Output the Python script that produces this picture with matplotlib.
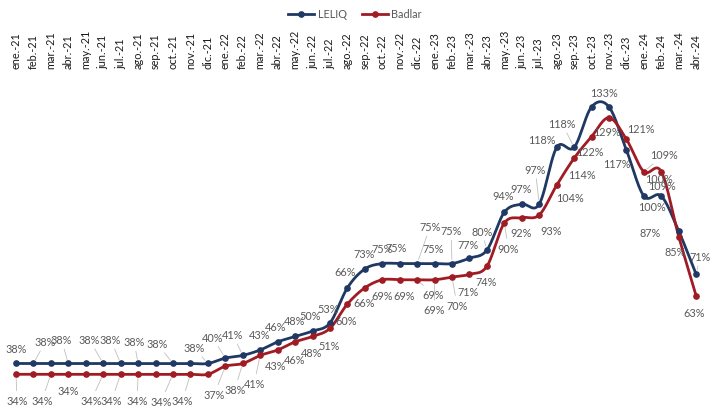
import numpy as np
import matplotlib
matplotlib.use("Agg")
import matplotlib.pyplot as plt
from matplotlib.lines import Line2D

months = ['ene.-21', 'feb.-21', 'mar.-21', 'abr.-21', 'may.-21', 'jun.-21', 'jul.-21', 'ago.-21',
          'sep.-21', 'oct.-21', 'nov.-21', 'dic.-21',
          'ene.-22', 'feb.-22', 'mar.-22', 'abr.-22', 'may.-22', 'jun.-22', 'jul.-22', 'ago.-22',
          'sep.-22', 'oct.-22', 'nov.-22', 'dic.-22',
          'ene.-23', 'feb.-23', 'mar.-23', 'abr.-23', 'may.-23', 'jun.-23', 'jul.-23', 'ago.-23',
          'sep.-23', 'oct.-23', 'nov.-23', 'dic.-23',
          'ene.-24', 'feb.-24', 'mar.-24', 'abr.-24']

leliq = [38, 38, 38, 38, 38, 38, 38, 38, 38, 38, 38, 38,
         40, 41, 43, 46, 48, 50, 53, 66, 73, 75, 75, 75,
         75, 75, 77, 80, 94, 97, 97, 118, 118, 133, 133, 117,
         100, 100, 87, 71]

badlar = [34, 34, 34, 34, 34, 34, 34, 34, 34, 34, 34, 34,
          37, 38, 41, 43, 46, 48, 51, 60, 66, 69, 69, 69,
          69, 70, 71, 74, 90, 92, 93, 104, 114, 122, 129, 121,
          109, 109, 85, 63]

# label placement: index -> (dx px, dy px, leader line)
leliq_labels = {0: (0, 15, False), 1: (12, 22, True), 3: (-7, 24, True), 5: (-14, 24, True),
                6: (-10, 24, True), 7: (-4, 22, True), 9: (-16, 20, True), 11: (-14, 16, True),
                12: (-13, 21, True), 13: (-10, 21, True), 14: (-1, 15, False), 15: (-2, 15, False),
                16: (-1, 16, False), 17: (-2, 16, False), 18: (-2, 14, False), 19: (-2, 16, False),
                20: (-1, 15, False), 21: (0, 15, False), 22: (-4, 16, False), 23: (13, 37, True),
                24: (-1, 15, False), 25: (-1, 33, True), 26: (-1, 14, False), 27: (-5, 19, True),
                28: (-1, 17, False), 29: (-1, 16, False), 30: (-4, 35, True), 31: (-15, 8, False),
                32: (-12, 24, True), 34: (-5, 14, False), 35: (-10, -13, False), 36: (8, -10, False),
                37: (-2, 18, False), 38: (-29, -1, False), 39: (4, 18, True)}

badlar_labels = {0: (1, -26, True), 2: (-9, -26, True), 3: (0, -16, False), 5: (-12, -26, True),
                 6: (-9, -26, True), 7: (-1, -26, True), 9: (-12, -27, True), 10: (-8, -26, True),
                 12: (-11, -28, True), 13: (-8, -26, True), 14: (-6, -28, True), 15: (-2, -16, False),
                 16: (0, -18, False), 17: (-1, -16, False), 18: (-1, -17, False), 19: (-1, -16, False),
                 20: (-1, -15, False), 21: (0, -16, False), 22: (4, -16, False), 23: (16, -15, True),
                 24: (0, -30, True), 25: (5, -28, True), 26: (-1, -17, False), 27: (-1, -15, False),
                 28: (4, -25, True), 29: (-1, -15, False), 30: (12, -16, False), 31: (13, -12, False),
                 32: (8, -16, False), 33: (-2, -15, False), 34: (-2, -14, False), 35: (14, 11, False),
                 36: (20, 17, True), 37: (1, -14, False), 38: (-4, -15, False), 39: (-2, -17, False)}

BLUE = '#1F3864'
RED = '#A01C24'
LABEL_GRAY = '#595959'
LEADER = '#BFBFBF'
FONT = ['Lato', 'DejaVu Sans']
plt.rcParams['font.family'] = FONT


def smooth(xs, ys, n=24):
    xs = np.asarray(xs, float)
    ys = np.asarray(ys, float)
    P = np.column_stack([xs, ys])
    out = [P[0]]
    t = np.linspace(0, 1, n)[1:]
    for i in range(len(P) - 1):
        p0 = P[i - 1] if i > 0 else P[i]
        p1 = P[i]
        p2 = P[i + 1]
        p3 = P[i + 2] if i + 2 < len(P) else P[i + 1]
        c1 = p1 + (p2 - p0) / 6.0
        c2 = p2 - (p3 - p1) / 6.0
        tt = t[:, None]
        seg = ((1 - tt) ** 3) * p1 + 3 * ((1 - tt) ** 2) * tt * c1 + 3 * (1 - tt) * tt ** 2 * c2 + tt ** 3 * p2
        out.extend(seg)
    out = np.array(out)
    return out[:, 0], out[:, 1]


fig = plt.figure(figsize=(7.1, 4.1), dpi=100)
ax = fig.add_axes([7.3 / 710, 5 / 410, 697.6 / 710, 333 / 410])

x = np.arange(len(months))
for vals, col in [(leliq, BLUE), (badlar, RED)]:
    sx, sy = smooth(x, vals)
    ax.plot(sx, sy, color=col, lw=2.0, solid_capstyle='round', zorder=3)
    ax.plot(x, vals, linestyle='none', marker='o', ms=3.8, color=col, zorder=4)

for vals, labels in [(leliq, leliq_labels), (badlar, badlar_labels)]:
    for i, (dx, dy, leader) in labels.items():
        kw = {}
        if leader:
            kw['arrowprops'] = dict(arrowstyle='-', color=LEADER, lw=0.6, shrinkA=1, shrinkB=3)
        ax.annotate(f'{vals[i]}%', xy=(x[i], vals[i]), xytext=(dx, dy), textcoords='offset pixels',
                    ha='center', va='center', fontsize=7.8, color=LABEL_GRAY, zorder=5, **kw)

ax.set_xlim(-0.5, len(months) - 0.5)
ax.set_ylim(23, 146.3)
ax.set_xticks(x)
ax.set_xticklabels(months, rotation=90, fontsize=7.8, color='#1A1A1A')
ax.xaxis.tick_top()
ax.tick_params(axis='x', length=0, pad=2.5)
ax.set_yticks([])
for s in ax.spines.values():
    s.set_visible(False)

handles = [Line2D([0], [0], color=BLUE, lw=2.0, marker='o', ms=3.8),
           Line2D([0], [0], color=RED, lw=2.0, marker='o', ms=3.8)]
fig.legend(handles, ['LELIQ', 'Badlar'], loc='center', bbox_to_anchor=(0.5, 1 - 15 / 410), ncol=2,
           frameon=False, fontsize=7.8, handlelength=2.4, columnspacing=1.4, handletextpad=0.3,
           labelcolor=LABEL_GRAY)

fig.savefig('out.png', dpi=100)
